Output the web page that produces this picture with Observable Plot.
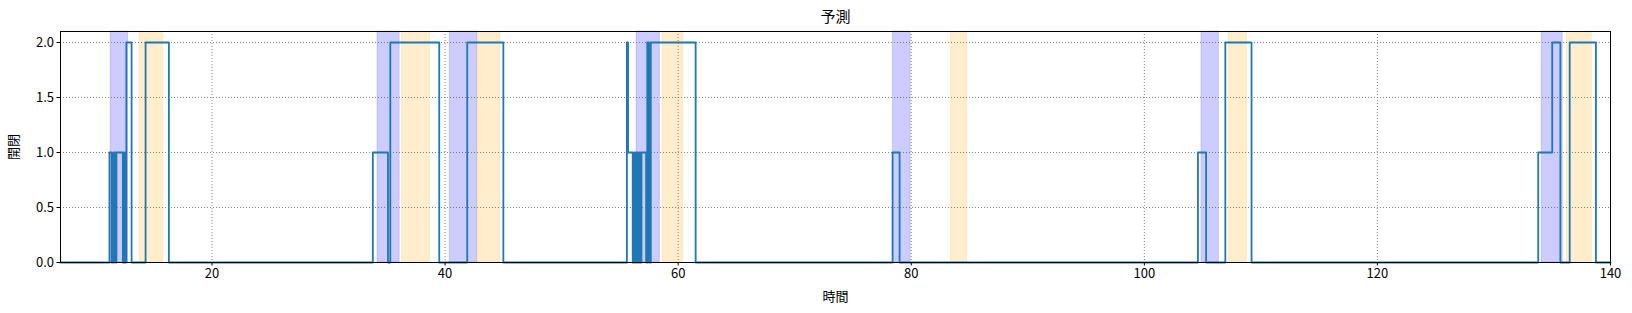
<!DOCTYPE html>
<html>
<head>
<meta charset="utf-8">
<script src="https://cdn.jsdelivr.net/npm/d3@7"></script>
<script src="https://cdn.jsdelivr.net/npm/@observablehq/plot@0.6"></script>
<style>
  html, body { margin: 0; padding: 0; background: #fff; }
  #chart svg { display: block; }
</style>
</head>
<body>
<div id="chart"></div>
<script>
// Step series (value holds until next x)
const stepX = [7, 11.2, 11.4, 11.55, 11.7, 11.8, 12.35, 12.45, 12.5, 12.65, 13.1, 14.3, 16.3,
  33.8, 35.1, 35.3, 39.5, 41.9, 45.0,
  55.6, 55.7, 56.1, 56.25, 56.35, 56.45, 56.55, 56.65, 56.75, 56.85, 57.25, 57.35, 57.5, 57.65, 61.5,
  78.4, 79.0,
  104.6, 105.3, 106.95, 109.2,
  133.8, 135.0, 135.7, 136.5, 138.75, 140];
const stepY = [0, 1, 0, 1, 0, 1, 0, 1, 0, 2, 0, 2, 0,
  1, 0, 2, 0, 2, 0,
  2, 1, 0, 1, 0, 1, 0, 1, 0, 1, 0, 2, 0, 2, 0,
  1, 0,
  1, 0, 2, 0,
  1, 2, 0, 2, 0, 0];

// Shaded spans
const blueStart = [11.3, 34.2, 40.4, 56.43, 78.42, 104.9, 134.1];
const blueEnd   = [12.8, 36.1, 42.75, 58.43, 79.95, 106.4, 135.9];
const orangeStart = [13.8, 36.3, 42.75, 58.66, 83.4, 107.25, 136.25];
const orangeEnd   = [15.8, 38.7, 44.75, 60.43, 84.8, 108.8, 138.4];

const xTicks = [20, 40, 60, 80, 100, 120, 140];
const yTicks = [0, 0.5, 1.0, 1.5, 2.0];

const titleText = "予測";
const xLabel = "時間";
const yLabel = "開閉";

const series = stepX.map((x, i) => ({x, y: stepY[i]}));
const blueSpans = blueStart.map((s, i) => ({x1: s, x2: blueEnd[i]}));
const orangeSpans = orangeStart.map((s, i) => ({x1: s, x2: orangeEnd[i]}));

const chart = Plot.plot({
  width: 1632,
  height: 313,
  marginLeft: 60,
  marginRight: 22,
  marginTop: 31,
  marginBottom: 51,
  style: {fontFamily: "'Noto Sans CJK JP', 'Noto Sans', sans-serif", fontSize: "13px", background: "#fff", color: "#000"},
  x: {domain: [7, 140]},
  y: {domain: [0, 2.1]},
  marks: [
    Plot.rect(blueSpans, {x1: "x1", x2: "x2", fill: "blue", fillOpacity: 0.2, stroke: "blue", strokeOpacity: 0.15, strokeWidth: 1}),
    Plot.rect(orangeSpans, {x1: "x1", x2: "x2", fill: "orange", fillOpacity: 0.2, stroke: "orange", strokeOpacity: 0.15, strokeWidth: 1}),
    Plot.gridX(xTicks, {stroke: "#555", strokeOpacity: 0.8, strokeWidth: 0.9, strokeDasharray: "1,2"}),
    Plot.gridY(yTicks, {stroke: "#555", strokeOpacity: 0.8, strokeWidth: 0.9, strokeDasharray: "1,2"}),
    Plot.line(series, {x: "x", y: "y", curve: "step-after", stroke: "#1f77b4", strokeWidth: 1.8}),
    Plot.frame({stroke: "#000", strokeWidth: 1}),
    Plot.axisX({ticks: xTicks, tickSize: 3.5, tickPadding: 3, label: null, fontSize: 13}),
    Plot.axisY({ticks: yTicks, tickSize: 3.5, tickPadding: 3, tickFormat: d3.format(".1f"), label: null, fontSize: 13}),
    Plot.text([titleText], {frameAnchor: "top", dy: -14.5, lineAnchor: "middle", fontSize: 15, fill: "#000"}),
    Plot.text([xLabel], {frameAnchor: "bottom", dy: 34.5, lineAnchor: "middle", fontSize: 13, fill: "#000"}),
    Plot.text([yLabel], {frameAnchor: "left", dx: -46.5, rotate: -90, lineAnchor: "middle", textAnchor: "middle", fontSize: 13, fill: "#000"})
  ]
});
document.getElementById("chart").appendChild(chart);
</script>
</body>
</html>
